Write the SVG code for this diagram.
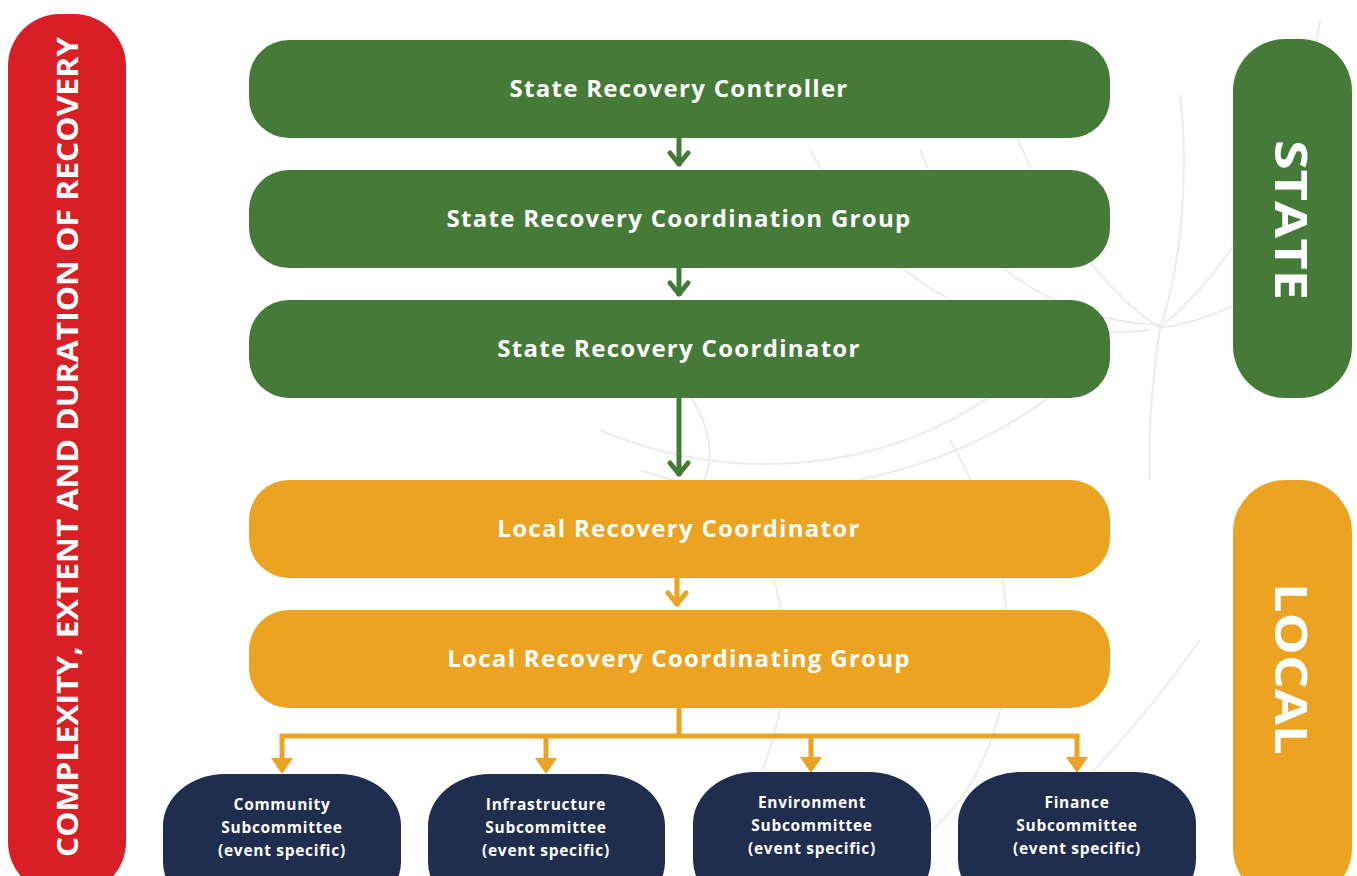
<svg xmlns="http://www.w3.org/2000/svg" width="1357" height="876" viewBox="0 0 1357 876">
<style>
.bg{fill:#ffffff}
.wm{fill:none;stroke:#ececec;stroke-width:2}
.green{fill:#467a39}
.orange{fill:#eba321}
.navy{fill:#1f2d4e}
.red{fill:#d91f26}
.t{font-family:"Open Sans","Liberation Sans",Arial,sans-serif;font-weight:700;fill:#ffffff;text-anchor:middle}
.main{font-size:24px;letter-spacing:1.3px}
.sub{font-size:15.5px;letter-spacing:0.7px}
.gline{fill:none;stroke:#467a39;stroke-width:5}
.oline{fill:none;stroke:#eba321;stroke-width:5}
</style>
<rect class="bg" x="0" y="0" width="1357" height="876"/>
<g id="watermark">
<path class="wm" d="M640 470 C780 520 980 470 1080 370"/>
<path class="wm" d="M600 430 C760 500 960 460 1060 330"/>
<path class="wm" d="M740 300 C820 390 960 420 1030 300"/>
<path class="wm" d="M810 150 C870 260 960 350 1150 330"/>
<path class="wm" d="M920 150 C960 250 1040 320 1160 325"/>
<path class="wm" d="M1010 120 C1040 200 1100 290 1160 328"/>
<path class="wm" d="M1180 95 C1190 180 1180 270 1160 328"/>
<path class="wm" d="M1320 20 C1300 150 1240 260 1160 328"/>
<path class="wm" d="M1350 200 C1300 280 1220 320 1160 328"/>
<path class="wm" d="M1160 328 C1150 400 1148 440 1150 480"/>
<path class="wm" d="M950 440 C1020 560 1030 700 960 800 C920 850 880 870 850 876"/>
<path class="wm" d="M760 540 C820 680 760 800 700 876"/>
<path class="wm" d="M1200 640 C1130 740 1050 820 980 876"/>
<path class="wm" d="M660 360 C720 420 720 470 690 500"/>
</g>
<g id="side-complexity">
<rect class="red" x="8" y="14" width="118" height="880" rx="52" ry="52"/>
<text class="t" font-size="28" transform="translate(67,447) rotate(-90)" dominant-baseline="central" textLength="820" lengthAdjust="spacingAndGlyphs">COMPLEXITY, EXTENT AND DURATION OF RECOVERY</text>
</g>
<g id="side-state">
<rect class="green" x="1233" y="39" width="119" height="359" rx="52" ry="52"/>
<text class="t" font-size="44" transform="translate(1292,220) rotate(90)" dominant-baseline="central" textLength="160" lengthAdjust="spacingAndGlyphs">STATE</text>
</g>
<g id="side-local">
<rect class="orange" x="1233" y="480" width="119" height="420" rx="52" ry="52"/>
<text class="t" font-size="44" transform="translate(1292,669) rotate(90)" dominant-baseline="central" textLength="172" lengthAdjust="spacingAndGlyphs">LOCAL</text>
</g>
<g id="connectors">
<line class="gline" x1="679" y1="138" x2="679" y2="166"/>
<polyline class="gline" points="670,153 679,164 688,153" stroke-linecap="round" stroke-linejoin="round"/>
<line class="gline" x1="679" y1="268" x2="679" y2="296"/>
<polyline class="gline" points="670,283 679,294 688,283" stroke-linecap="round" stroke-linejoin="round"/>
<line class="gline" x1="679" y1="398" x2="679" y2="476"/>
<polyline class="gline" points="670,463 679,474 688,463" stroke-linecap="round" stroke-linejoin="round"/>
<line class="oline" x1="677" y1="578" x2="677" y2="606"/>
<polyline class="oline" points="668,593 677,604 686,593" stroke-linecap="round" stroke-linejoin="round"/>
<line class="oline" x1="679" y1="708" x2="679" y2="736"/>
<polyline class="oline" points="282,760 282,736 1077,736 1077,760"/>
<line class="oline" x1="546" y1="736" x2="546" y2="760"/>
<line class="oline" x1="811" y1="736" x2="811" y2="760"/>
<polygon class="orange" points="271,758 293,758 282,774"/>
<polygon class="orange" points="535,758 557,758 546,774"/>
<polygon class="orange" points="800,757 822,757 811,773"/>
<polygon class="orange" points="1066,757 1088,757 1077,773"/>
</g>
<g id="state-recovery-controller">
<rect class="green" x="249" y="40" width="861" height="98" rx="40" ry="40"/>
<text class="t main" x="679" y="97">State Recovery Controller</text>
</g>
<g id="state-recovery-coordination-group">
<rect class="green" x="249" y="170" width="861" height="98" rx="40" ry="40"/>
<text class="t main" x="679" y="227">State Recovery Coordination Group</text>
</g>
<g id="state-recovery-coordinator">
<rect class="green" x="249" y="300" width="861" height="98" rx="40" ry="40"/>
<text class="t main" x="679" y="357">State Recovery Coordinator</text>
</g>
<g id="local-recovery-coordinator">
<rect class="orange" x="249" y="480" width="861" height="98" rx="40" ry="40"/>
<text class="t main" x="679" y="537">Local Recovery Coordinator</text>
</g>
<g id="local-recovery-coordinating-group">
<rect class="orange" x="249" y="610" width="861" height="98" rx="40" ry="40"/>
<text class="t main" x="679" y="667">Local Recovery Coordinating Group</text>
</g>
<g id="community-subcommittee">
<rect class="navy" x="163" y="774" width="238" height="140" rx="62" ry="52"/>
<text class="t sub" x="282" y="810">Community</text>
<text class="t sub" x="282" y="833">Subcommittee</text>
<text class="t sub" x="282" y="856">(event specific)</text>
</g>
<g id="infrastructure-subcommittee">
<rect class="navy" x="428" y="774" width="237" height="140" rx="62" ry="52"/>
<text class="t sub" x="546" y="810">Infrastructure</text>
<text class="t sub" x="546" y="833">Subcommittee</text>
<text class="t sub" x="546" y="856">(event specific)</text>
</g>
<g id="environment-subcommittee">
<rect class="navy" x="693" y="772" width="238" height="140" rx="62" ry="52"/>
<text class="t sub" x="812" y="808">Environment</text>
<text class="t sub" x="812" y="831">Subcommittee</text>
<text class="t sub" x="812" y="854">(event specific)</text>
</g>
<g id="finance-subcommittee">
<rect class="navy" x="958" y="772" width="238" height="140" rx="62" ry="52"/>
<text class="t sub" x="1077" y="808">Finance</text>
<text class="t sub" x="1077" y="831">Subcommittee</text>
<text class="t sub" x="1077" y="854">(event specific)</text>
</g>
</svg>
